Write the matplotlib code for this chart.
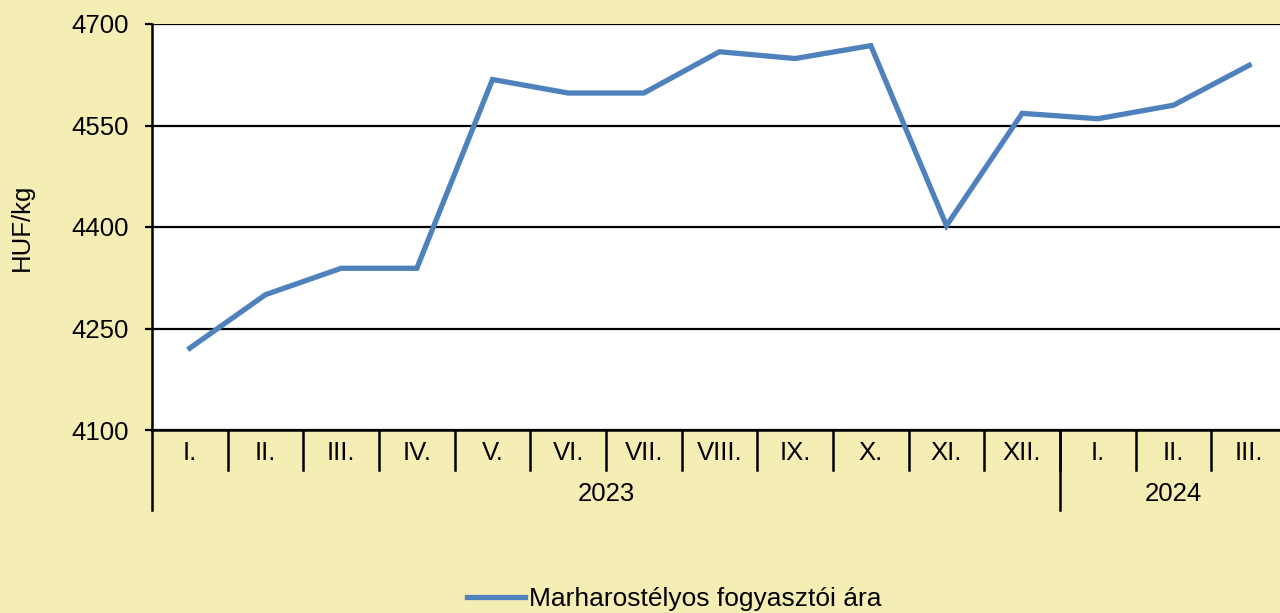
import matplotlib
matplotlib.use("Agg")
import matplotlib.pyplot as plt
import matplotlib.transforms as mtransforms

# data
months = ["I.", "II.", "III.", "IV.", "V.", "VI.", "VII.", "VIII.", "IX.", "X.", "XI.", "XII.",
          "I.", "II.", "III."]
years = ["2023", "2024"]
year_lengths = [12, 3]
prices = [4221, 4300, 4339, 4339, 4618, 4598, 4598, 4659, 4649, 4668, 4402, 4568, 4560, 4580, 4639]
series_name = "Marharostélyos fogyasztói ára"

bg = "#F5EEB4"
blue = "#4F81BD"
fs = 18.5

plt.rcParams["font.family"] = ["Liberation Sans", "DejaVu Sans"]
plt.rcParams["font.size"] = fs

fig = plt.figure(figsize=(12.8, 6.13), dpi=100, facecolor=bg)
# plot area runs a little past the right edge of the picture, as in the original
ax = fig.add_axes([152 / 1280, 1 - 430 / 613, (1287 - 152) / 1280, (430 - 24) / 613])
ax.set_facecolor("white")

x = list(range(len(prices)))
line, = ax.plot(x, prices, color=blue, lw=3.8, solid_joinstyle="miter", label=series_name)

ax.set_xlim(-0.5, len(prices) - 0.5)
ax.set_ylim(4100, 4700)
ax.set_yticks([4100, 4250, 4400, 4550, 4700])
ax.yaxis.grid(True, color="black", lw=1.6)
ax.set_axisbelow(True)
ax.tick_params(axis="y", direction="out", length=5, width=1.6, pad=12, labelsize=fs)
ax.set_ylabel("HUF/kg", fontsize=fs, labelpad=27)

for side in ["top", "right"]:
    ax.spines[side].set_visible(False)
for side in ["left", "bottom"]:
    ax.spines[side].set_linewidth(1.8)
    ax.spines[side].set_color("black")

# month labels and separators
ax.set_xticks(x)
ax.set_xticklabels(months, fontsize=fs)
ax.tick_params(axis="x", length=0, pad=8)
trans = mtransforms.blended_transform_factory(ax.transData, ax.transAxes)
ax_h = 430 - 24
for b in range(1, len(prices)):
    ax.plot([b - 0.5, b - 0.5], [0, -40 / ax_h], color="black", lw=1.8,
            transform=trans, clip_on=False)

# year groups
start = 0
for yr, n in zip(years, year_lengths):
    ax.plot([start - 0.5, start - 0.5], [0, -80 / ax_h], color="black", lw=1.8,
            transform=trans, clip_on=False)
    ax.text(start + (n - 1) / 2, -64 / ax_h, yr, transform=trans, ha="center",
            va="center", fontsize=fs)
    start += n

fig.legend(handles=[line], loc="center", bbox_to_anchor=(0.527, 1 - 599 / 613),
           frameon=False, fontsize=19, handlelength=2.2, handletextpad=0.15)

fig.savefig("out.png", dpi=100, facecolor=bg)
